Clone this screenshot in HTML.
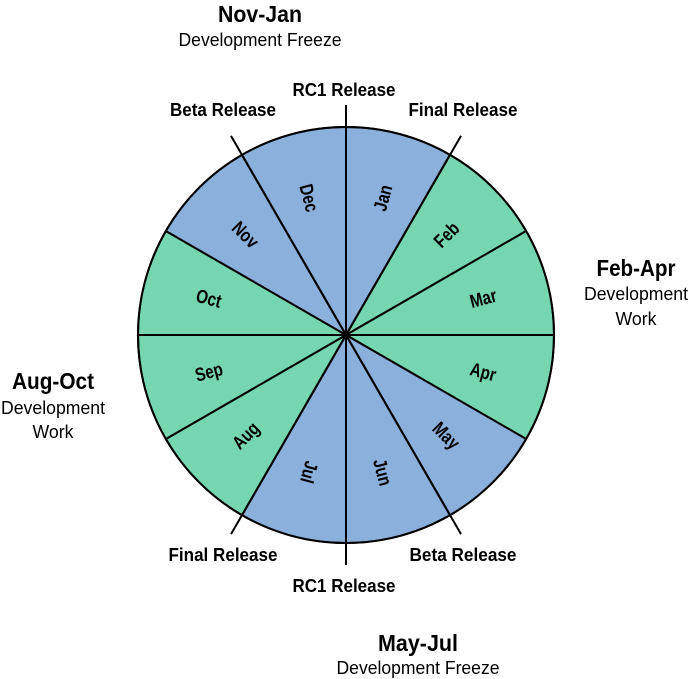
<!DOCTYPE html>
<html><head><meta charset="utf-8"><style>
html,body{margin:0;padding:0;background:#fff;}
svg{display:block;font-family:"Liberation Sans",Arial,sans-serif;}
</style></head><body>
<svg id="chart" width="692" height="679" viewBox="0 0 692 679" xmlns="http://www.w3.org/2000/svg">
<g id="wheel"></g>
<g id="labels" fill="#000">
<text x="260" y="22" text-anchor="middle" font-size="23" font-weight="bold" textLength="84" lengthAdjust="spacingAndGlyphs">Nov-Jan</text>
<text x="260" y="46" text-anchor="middle" font-size="18" textLength="163" lengthAdjust="spacingAndGlyphs">Development Freeze</text>
<text x="344" y="96" text-anchor="middle" font-size="18" font-weight="bold" textLength="103" lengthAdjust="spacingAndGlyphs">RC1 Release</text>
<text x="223" y="116" text-anchor="middle" font-size="18" font-weight="bold" textLength="106" lengthAdjust="spacingAndGlyphs">Beta Release</text>
<text x="463" y="116" text-anchor="middle" font-size="18" font-weight="bold" textLength="109" lengthAdjust="spacingAndGlyphs">Final Release</text>
<text x="636" y="276" text-anchor="middle" font-size="23" font-weight="bold" textLength="79" lengthAdjust="spacingAndGlyphs">Feb-Apr</text>
<text x="636" y="300" text-anchor="middle" font-size="18" textLength="104" lengthAdjust="spacingAndGlyphs">Development</text>
<text x="636" y="325" text-anchor="middle" font-size="18" textLength="41" lengthAdjust="spacingAndGlyphs">Work</text>
<text x="53" y="389" text-anchor="middle" font-size="23" font-weight="bold" textLength="82" lengthAdjust="spacingAndGlyphs">Aug-Oct</text>
<text x="53" y="414" text-anchor="middle" font-size="18" textLength="104" lengthAdjust="spacingAndGlyphs">Development</text>
<text x="53" y="438" text-anchor="middle" font-size="18" textLength="41" lengthAdjust="spacingAndGlyphs">Work</text>
<text x="223" y="561" text-anchor="middle" font-size="18" font-weight="bold" textLength="109" lengthAdjust="spacingAndGlyphs">Final Release</text>
<text x="463" y="561" text-anchor="middle" font-size="18" font-weight="bold" textLength="107" lengthAdjust="spacingAndGlyphs">Beta Release</text>
<text x="344" y="592" text-anchor="middle" font-size="18" font-weight="bold" textLength="103" lengthAdjust="spacingAndGlyphs">RC1 Release</text>
<text x="418" y="651" text-anchor="middle" font-size="23" font-weight="bold" textLength="80" lengthAdjust="spacingAndGlyphs">May-Jul</text>
<text x="418" y="674" text-anchor="middle" font-size="18" textLength="163" lengthAdjust="spacingAndGlyphs">Development Freeze</text>
</g>
</svg>
<script>
const months = ["Jan","Feb","Mar","Apr","May","Jun","Jul","Aug","Sep","Oct","Nov","Dec"];
const phases = ["freeze","work","work","work","freeze","freeze","freeze","work","work","work","freeze","freeze"];
const releaseAngles = [0, 30, 150, 180, 210, 330];
const phaseColors = {freeze:"#8cb0dc", work:"#76d6b0"};
const cx = 346, cy = 335, R = 208, RL = 142, RX = 230;
const ns = "http://www.w3.org/2000/svg";
const g = document.getElementById("wheel");
function pt(deg, r){ const a = deg*Math.PI/180; return [cx + r*Math.sin(a), cy - r*Math.cos(a)]; }
const step = 360/months.length;
months.forEach((m,i)=>{
  const a0 = i*step, a1 = (i+1)*step;
  const p0 = pt(a0,R), p1 = pt(a1,R);
  const path = document.createElementNS(ns,"path");
  path.setAttribute("d",`M${cx},${cy} L${p0[0]},${p0[1]} A${R},${R} 0 0 1 ${p1[0]},${p1[1]} Z`);
  path.setAttribute("fill",phaseColors[phases[i]]);
  path.setAttribute("stroke","#000");
  path.setAttribute("stroke-width","2");
  
  
  g.appendChild(path);
});
releaseAngles.forEach(a=>{
  const p = pt(a,RX);
  const l = document.createElementNS(ns,"line");
  l.setAttribute("x1",cx); l.setAttribute("y1",cy);
  l.setAttribute("x2",p[0]); l.setAttribute("y2",p[1]);
  l.setAttribute("stroke","#000"); l.setAttribute("stroke-width","2");
  
  
  g.appendChild(l);
});
const circ = document.createElementNS(ns,"circle");
circ.setAttribute("cx",cx); circ.setAttribute("cy",cy); circ.setAttribute("r",R);
circ.setAttribute("fill","none"); circ.setAttribute("stroke","#000"); circ.setAttribute("stroke-width","2");


g.appendChild(circ);
const dot = document.createElementNS(ns,"circle");
dot.setAttribute("cx",cx); dot.setAttribute("cy",cy); dot.setAttribute("r",3);


g.appendChild(dot);
months.forEach((m,i)=>{
  const a = (i+0.5)*step;
  const p = pt(a,RL);
  let rot = a < 195 ? a - 90 : a - 270;
  if (a > 180 && a < 200) rot = a - 90;
  const t = document.createElementNS(ns,"text");
  t.textContent = m;
  t.setAttribute("x",0); t.setAttribute("y",0);
  t.setAttribute("text-anchor","middle");
  t.setAttribute("dominant-baseline","central");
  t.setAttribute("font-size","19");
  t.setAttribute("font-weight","bold");
  t.setAttribute("transform",`translate(${p[0]},${p[1]}) rotate(${rot}) scale(0.8,1)`);
  
  
  g.appendChild(t);
});
</script>
</body></html>
